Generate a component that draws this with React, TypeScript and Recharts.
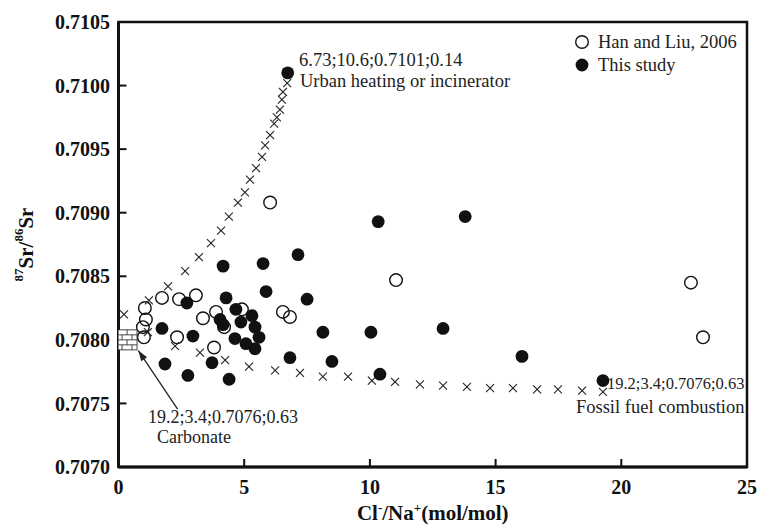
import React from "react"
import { ScatterChart, Scatter, XAxis, YAxis, ReferenceArea, ReferenceLine, Legend, Label } from "recharts"

const SERIF = "'Liberation Serif', 'Times New Roman', serif"
const INK = "#111"

const xTicks = [0, 5, 10, 15, 20, 25]
const yTicks = [0.707, 0.7075, 0.708, 0.7085, 0.709, 0.7095, 0.71, 0.7105]

// Han and Liu, 2006 (open circles)
const hanX = [6.03, 11.04, 22.77, 23.25, 6.54, 6.82, 1.73, 2.41, 3.08, 1.05, 1.09, 0.97, 1.01, 2.33, 3.36, 3.88, 4.2, 4.91, 3.8]
const hanY = [0.70908, 0.70847, 0.70845, 0.70802, 0.70822, 0.70818, 0.70833, 0.70832, 0.70835, 0.70825, 0.70816, 0.7081, 0.70802, 0.70802, 0.70817, 0.70822, 0.7081, 0.70824, 0.70794]

// This study (filled circles)
const studyX = [6.73, 5.75, 7.14, 4.16, 10.33, 13.79, 5.87, 7.5, 4.28, 2.72, 1.73, 2.96, 4.67, 4.04, 4.16, 4.87, 5.31, 5.43, 5.59, 4.63, 5.07, 5.43, 1.85, 2.76, 3.72, 4.4, 6.82, 8.13, 10.04, 8.49, 10.4, 12.91, 16.05, 19.27]
const studyY = [0.7101, 0.7086, 0.70867, 0.70858, 0.70893, 0.70897, 0.70838, 0.70832, 0.70833, 0.70829, 0.70809, 0.70803, 0.70824, 0.70816, 0.70812, 0.70814, 0.70819, 0.7081, 0.70802, 0.70801, 0.70797, 0.70793, 0.70781, 0.70772, 0.70782, 0.70769, 0.70786, 0.70806, 0.70806, 0.70783, 0.70773, 0.70809, 0.70787, 0.70768]

// mixing curve carbonate -> urban heating
const urbanX = [6.71, 6.54, 6.5, 6.42, 6.3, 6.19, 6.03, 5.83, 5.71, 5.47, 5.23, 5.03, 4.75, 4.39, 4.08, 3.68, 3.2, 2.65, 1.97, 1.21, 0.22]
const urbanY = [0.71002, 0.70995, 0.70989, 0.70981, 0.70975, 0.7097, 0.70961, 0.70953, 0.70944, 0.70935, 0.70926, 0.70916, 0.70908, 0.70897, 0.70886, 0.70876, 0.70865, 0.70854, 0.70842, 0.70831, 0.7082]

// mixing curve carbonate -> fossil fuel
const fossilX = [1.17, 2.25, 3.24, 4.24, 5.19, 6.23, 7.22, 8.13, 9.13, 10.08, 11.0, 11.99, 12.91, 13.86, 14.78, 15.69, 16.65, 17.48, 18.44, 19.27]
const fossilY = [0.70806, 0.70795, 0.7079, 0.70784, 0.70779, 0.70776, 0.70774, 0.70771, 0.70771, 0.70768, 0.70767, 0.70765, 0.70764, 0.70763, 0.70762, 0.70762, 0.70761, 0.70761, 0.7076, 0.70759]

const carbonate = [{ x: 0.34, y: 0.708 }]

const noteText = ["6.73;10.6;0.7101;0.14", "Urban heating or incinerator", "19.2;3.4;0.7076;0.63", "Fossil fuel combustion", "19.2;3.4;0.7076;0.63", "Carbonate"]
const noteX = [7.18, 7.22, 24.9, 24.9, 1.17, 1.53]
const noteY = [0.7102, 0.710035, 0.707653, 0.70747, 0.70739, 0.707238]
const noteAnchor = ["start", "start", "end", "end", "start", "start"]
const noteSize = [18.5, 18.5, 16.5, 18.5, 18, 18]

const zip = (xs: number[], ys: number[]) => xs.map((x, i) => ({ x, y: ys[i] }))

const hanData = zip(hanX, hanY)
const studyData = zip(studyX, studyY)
const urbanData = zip(urbanX, urbanY)
const fossilData = zip(fossilX, fossilY)
const notes = noteText.map((text, i) => ({ x: noteX[i], y: noteY[i], text, anchor: noteAnchor[i], size: noteSize[i] }))

const OpenDot = (p: any) => <circle cx={p.cx} cy={p.cy} r={6.3} fill="none" stroke={INK} strokeWidth={1.4} />
const FilledDot = (p: any) => <circle cx={p.cx} cy={p.cy} r={6.4} fill={INK} />
const Cross = (p: any) => (
  <g stroke="#222" strokeWidth={1.1}>
    <line x1={p.cx - 4} y1={p.cy - 4} x2={p.cx + 4} y2={p.cy + 4} />
    <line x1={p.cx - 4} y1={p.cy + 4} x2={p.cx + 4} y2={p.cy - 4} />
  </g>
)

const Brick = (p: any) => {
  const x0 = p.cx - 10
  const y0 = p.cy - 10
  const rows = [0, 1, 2, 3]
  return (
    <g stroke="#333" strokeWidth={0.9} fill="none">
      <rect x={x0} y={y0} width={20} height={20} fill="#fff" />
      {rows.slice(1).map((r) => (
        <line key={"h" + r} x1={x0} x2={x0 + 20} y1={y0 + r * 5} y2={y0 + r * 5} />
      ))}
      {rows.map((r) =>
        (r % 2 === 0 ? [10] : [5, 15]).map((dx) => (
          <line key={"v" + r + dx} x1={x0 + dx} x2={x0 + dx} y1={y0 + r * 5} y2={y0 + r * 5 + 5} />
        ))
      )}
    </g>
  )
}

const Note = (p: any) => (
  <text x={p.cx} y={p.cy} textAnchor={p.payload.anchor} dominantBaseline="central" fontFamily={SERIF} fontSize={p.payload.size} fill="#222">
    {p.payload.text}
  </text>
)

const Arrow = (p: any) => {
  const { x1, y1, x2, y2 } = p
  const ang = Math.atan2(y2 - y1, x2 - x1)
  const len = 11
  const spread = 0.33
  const ax = x2 - len * Math.cos(ang - spread)
  const ay = y2 - len * Math.sin(ang - spread)
  const bx = x2 - len * Math.cos(ang + spread)
  const by = y2 - len * Math.sin(ang + spread)
  return (
    <g>
      <line x1={x1} y1={y1} x2={x2} y2={y2} stroke="#222" strokeWidth={1.3} />
      <path d={`M${x2},${y2} L${ax},${ay} L${bx},${by} Z`} fill="#222" />
    </g>
  )
}

const XTitle = (props: any) => {
  const vb = props.viewBox
  return (
    <text x={vb.x + vb.width / 2} y={vb.y + 53} textAnchor="middle" fontFamily={SERIF} fontWeight="bold" fontSize={21} fill={INK}>
      <tspan>Cl</tspan>
      <tspan fontSize={13} dy={-8}>-</tspan>
      <tspan dy={8}>/Na</tspan>
      <tspan fontSize={13} dy={-8}>+</tspan>
      <tspan dy={8}>(mol/mol)</tspan>
    </text>
  )
}

const YTitle = (props: any) => {
  const vb = props.viewBox
  const cx = vb.x + 26
  const cy = vb.y + vb.height / 2
  return (
    <text x={cx} y={cy} transform={`rotate(-90 ${cx} ${cy})`} textAnchor="middle" dominantBaseline="central" fontFamily={SERIF} fontWeight="bold" fontSize={21} fill={INK}>
      <tspan fontSize={13} dy={-8}>87</tspan>
      <tspan dy={8}>Sr/</tspan>
      <tspan fontSize={13} dy={-8}>86</tspan>
      <tspan dy={8}>Sr</tspan>
    </text>
  )
}

const LegendBox = () => (
  <svg width={180} height={50}>
    <circle cx={10} cy={11} r={6.3} fill="none" stroke={INK} strokeWidth={1.4} />
    <text x={26} y={11} dominantBaseline="central" fontFamily={SERIF} fontSize={18.5} fill="#222">Han and Liu, 2006</text>
    <circle cx={10} cy={34} r={6.4} fill={INK} />
    <text x={26} y={34} dominantBaseline="central" fontFamily={SERIF} fontSize={18.5} fill="#222">This study</text>
  </svg>
)

const tickFont = { fill: INK, fontSize: 20, fontWeight: "bold", fontFamily: SERIF }

export default function App() {
  return (
    <div style={{ position: "absolute", left: 0, top: 0, width: 762, height: 527, background: "#fff" }}>
      <ScatterChart width={762} height={527} margin={{ top: 22, right: 15, bottom: 0, left: 0 }}>
        <ReferenceArea x1={0} x2={25} y1={0.707} y2={0.7105} fill="none" stroke={INK} strokeWidth={2.5} ifOverflow="visible" />
        <XAxis
          type="number"
          dataKey="x"
          domain={[0, 25]}
          ticks={xTicks}
          height={60}
          tickSize={-8}
          tickMargin={21}
          axisLine={{ stroke: INK, strokeWidth: 3 }}
          tickLine={{ stroke: INK, strokeWidth: 2 }}
          tick={tickFont}
          allowDataOverflow
        >
          <Label content={XTitle} />
        </XAxis>
        <YAxis
          type="number"
          dataKey="y"
          domain={[0.707, 0.7105]}
          ticks={yTicks}
          width={118.5}
          tickSize={-8}
          tickMargin={16.5}
          tickFormatter={(v: number) => v.toFixed(4)}
          axisLine={{ stroke: INK, strokeWidth: 3 }}
          tickLine={{ stroke: INK, strokeWidth: 2 }}
          tick={tickFont}
          allowDataOverflow
        >
          <Label content={YTitle} />
        </YAxis>
        <ReferenceLine
          segment={[{ x: 2.35, y: 0.707456 }, { x: 0.79, y: 0.707916 }]}
          shape={Arrow}
          ifOverflow="visible"
        />
        <Scatter name="Han and Liu, 2006" data={hanData} shape={OpenDot} isAnimationActive={false} />
        <Scatter name="urban mixing" data={urbanData} shape={Cross} legendType="none" isAnimationActive={false} />
        <Scatter name="fossil mixing" data={fossilData} shape={Cross} legendType="none" isAnimationActive={false} />
        <Scatter name="This study" data={studyData} shape={FilledDot} isAnimationActive={false} />
        <Scatter name="carbonate" data={carbonate} shape={Brick} legendType="none" isAnimationActive={false} />
        <Scatter name="notes" data={notes} shape={Note} legendType="none" isAnimationActive={false} />
        <Legend
          layout="vertical"
          align="center"
          verticalAlign="middle"
          content={LegendBox}
          wrapperStyle={{ position: "absolute", left: 572, top: 31, width: 180, height: 50 }}
        />
      </ScatterChart>
    </div>
  )
}
